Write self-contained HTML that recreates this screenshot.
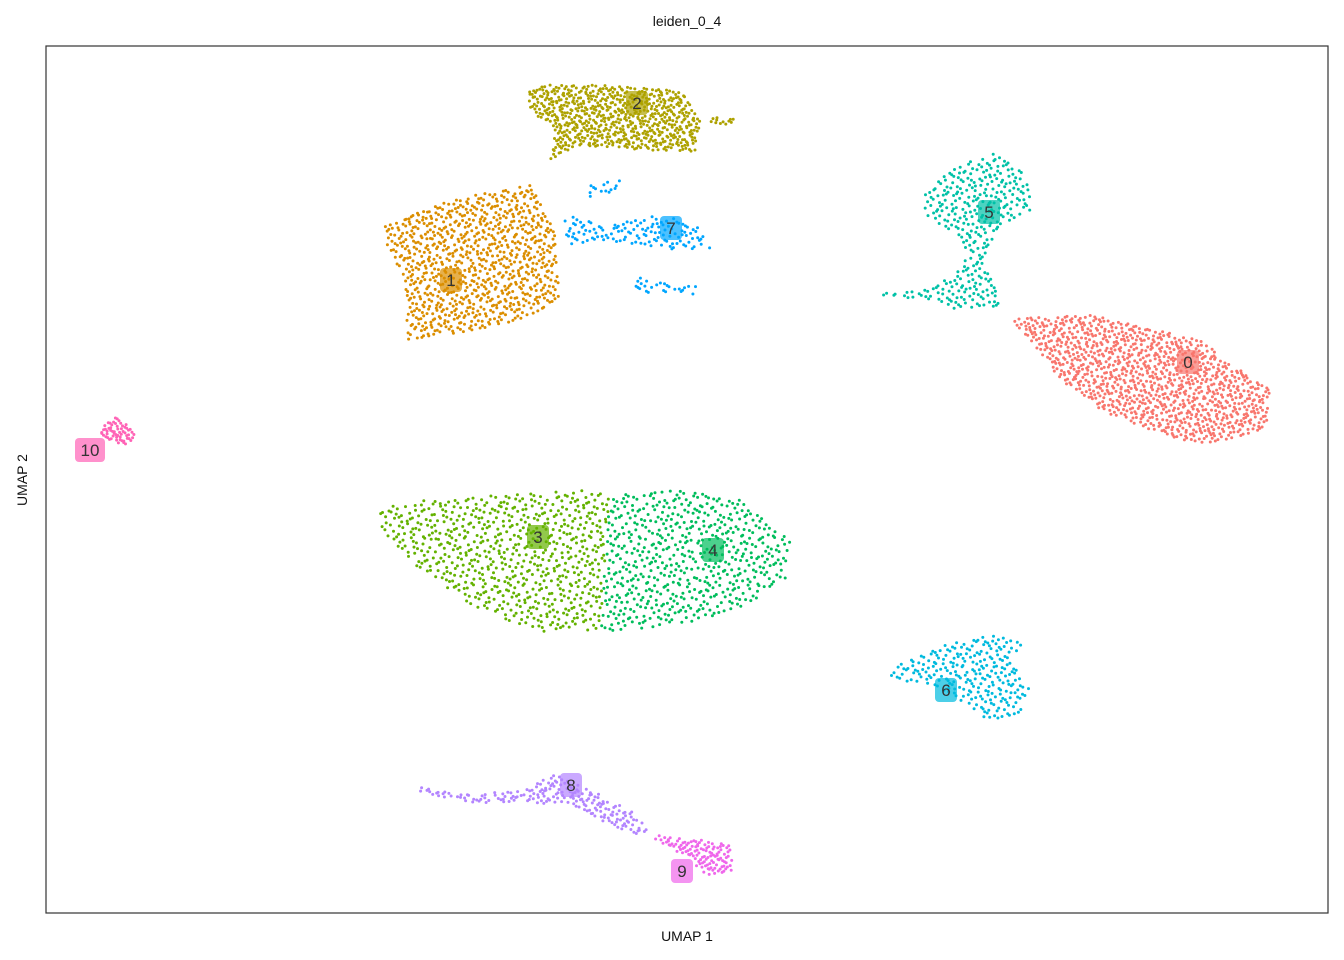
<!DOCTYPE html>
<html><head><meta charset="utf-8"><style>
body{margin:0;background:#fff;}
svg{display:block;font-family:"Liberation Sans",sans-serif;}
</style></head><body>
<svg id="chart" width="1344" height="960">
<rect x="0" y="0" width="1344" height="960" fill="#fff"/>
<text x="687" y="26" text-anchor="middle" font-size="14" fill="#111">leiden_0_4</text>
<text x="687" y="941" text-anchor="middle" font-size="14" fill="#111">UMAP 1</text>
<text x="27" y="480" text-anchor="middle" font-size="14" fill="#111" transform="rotate(-90 27 480)">UMAP 2</text>
<g id="points"></g>
<g id="labels"></g>
<rect x="46" y="46" width="1282" height="867" fill="none" stroke="#333" stroke-width="1.2"/>
</svg>
<script>
const clusterIds = ["0","1","2","3","4","5","6","7","8","9","10"];
const clusterColors = ["#F8766D","#DB8E00","#AEA200","#64B200","#00BD5C","#00C1A7","#00BADE","#00A6FF","#B385FF","#EF67EB","#FF63B6"];
const clusterCounts = [1100,900,700,700,600,350,250,170,200,120,60];
const clusterShapes = [
 [[[96.4,59.5],[104.4,59.8],[115.4,57.3],[119.4,54.3],[122.4,52.3],[122.2,48.3],[115.4,46.8],[110.4,48.3],[105.4,50.3],[101.4,53.3],[98.4,57.3]]],
 [[[33.9,68.8],[37.4,70.3],[42.4,71.8],[48.4,72.8],[50.9,68.3],[51.4,61.3],[47.4,59.3],[40.4,57.8],[36.2,57.3],[35.9,63.3],[33.9,67.3]]],
 [[[48.2,82.1],[49.9,82.8],[55.4,82.8],[63.4,82.3],[65.4,79.3],[64.9,76.1],[59.4,76.3],[53.4,76.8],[50.4,75.3],[50.9,78.3],[48.4,80.3]],[[66.4,79.6],[69.0,79.4],[69.0,78.8],[66.4,79.0]]],
 [[[32.9,40.3],[37.4,41.3],[45.4,41.8],[53.4,42.3],[56.4,41.8],[55.4,28.3],[49.4,28.1],[43.4,30.3],[37.4,34.3],[33.4,38.3]]],
 [[[56.4,41.8],[63.4,42.3],[69.4,41.3],[74.4,37.3],[73.9,33.3],[69.4,30.3],[63.4,28.8],[55.4,28.1]]],
 [[[87.9,72.3],[91.4,74.8],[95.4,76.1],[98.4,73.3],[98.4,70.3],[95.4,68.8],[93.9,65.3],[95.4,61.3],[97.4,60.8],[91.4,60.3],[87.4,61.3],[82.4,61.8],[89.4,62.8],[92.4,65.8],[90.4,68.3],[87.9,69.8]]],
 [[[84.4,24.3],[88.4,26.3],[91.4,27.3],[95.4,27.8],[97.9,26.8],[96.4,25.3],[98.4,22.3],[97.4,19.8],[93.9,19.3],[91.4,21.3],[88.4,22.8],[84.4,23.3]]],
 [[[51.9,69.8],[56.4,68.8],[61.4,69.8],[65.4,68.8],[66.6,66.5],[61.4,66.3],[55.4,67.3],[51.9,66.8]],[[58.4,63.8],[61.4,63.1],[65.1,62.7],[64.9,61.8],[59.4,62.1],[58.4,62.8]],[[54.4,72.8],[57.4,73.3],[57.4,72.3],[54.4,71.6]]],
 [[[37.4,12.7],[42.4,11.8],[47.4,12.3],[50.9,13.8],[55.4,11.8],[58.4,10.3],[60.4,8.3],[59.4,7.8],[56.4,8.8],[52.4,10.8],[47.4,11.1],[42.4,11.0],[37.4,12.1]]],
 [[[60.9,7.8],[65.4,7.3],[68.4,6.8],[68.7,4.3],[66.4,3.5],[64.4,5.3],[60.9,7.3]]],
 [[[5.9,48.8],[6.9,49.6],[8.4,48.8],[9.2,47.8],[7.9,46.8],[6.2,47.3],[5.4,48.1]]]
];
const labelX = [114.2,40.5,59.1,49.2,66.7,94.3,90.0,62.5,52.5,63.6,4.4];
const labelY = [55.1,63.3,81.0,37.6,36.3,70.1,22.3,68.5,12.8,4.2,46.3];

const X0=46,Y0=913,SX=10,SY=10;
function xs(v){return X0+v*SX;}
function ys(v){return Y0-v*SY;}
function halton(i,b){let f=1,r=0;while(i>0){f/=b;r+=f*(i%b);i=Math.floor(i/b);}return r;}
function inPoly(p,poly){let c=false;for(let i=0,j=poly.length-1;i<poly.length;j=i++){const a=poly[i],b=poly[j];if(((a[1]>p[1])!=(b[1]>p[1]))&&(p[0]<(b[0]-a[0])*(p[1]-a[1])/(b[1]-a[1])+a[0]))c=!c;}return c;}
const NS="http://www.w3.org/2000/svg";
const gp=document.getElementById('points');
clusterIds.forEach((id,k)=>{
  const polys=clusterShapes[k];
  let minx=1e9,maxx=-1e9,miny=1e9,maxy=-1e9;
  polys.forEach(pl=>pl.forEach(p=>{minx=Math.min(minx,p[0]);maxx=Math.max(maxx,p[0]);miny=Math.min(miny,p[1]);maxy=Math.max(maxy,p[1]);}));
  const g=document.createElementNS(NS,'g');
  
  
  g.setAttribute('fill',clusterColors[k]);
  let n=0,i=1+k*97;
  while(n<clusterCounts[k]&&i<200000){
    const p=[minx+halton(i,2)*(maxx-minx),miny+halton(i,3)*(maxy-miny)];
    i++;
    if(polys.some(pl=>inPoly(p,pl))){
      const c=document.createElementNS(NS,'circle');
      c.setAttribute('cx',xs(p[0]).toFixed(1));c.setAttribute('cy',ys(p[1]).toFixed(1));c.setAttribute('r',1.5);
      
      
      g.appendChild(c);n++;
    }
  }
  gp.appendChild(g);
});
const gl=document.getElementById('labels');
clusterIds.forEach((id,k)=>{
  const g=document.createElementNS(NS,'g');
  
  
  const w=id.length>1?30:22,h=24,cx=xs(labelX[k]),cy=ys(labelY[k]);
  const r=document.createElementNS(NS,'rect');
  r.setAttribute('x',cx-w/2);r.setAttribute('y',cy-h/2);r.setAttribute('width',w);r.setAttribute('height',h);r.setAttribute('rx',4);
  r.setAttribute('fill',clusterColors[k]);r.setAttribute('fill-opacity','0.7');
  const t=document.createElementNS(NS,'text');
  t.setAttribute('x',cx);t.setAttribute('y',cy+6);t.setAttribute('text-anchor','middle');t.setAttribute('font-size','17');t.setAttribute('fill','#333');
  t.textContent=id;
  g.appendChild(r);g.appendChild(t);gl.appendChild(g);
});
</script>
</body></html>
